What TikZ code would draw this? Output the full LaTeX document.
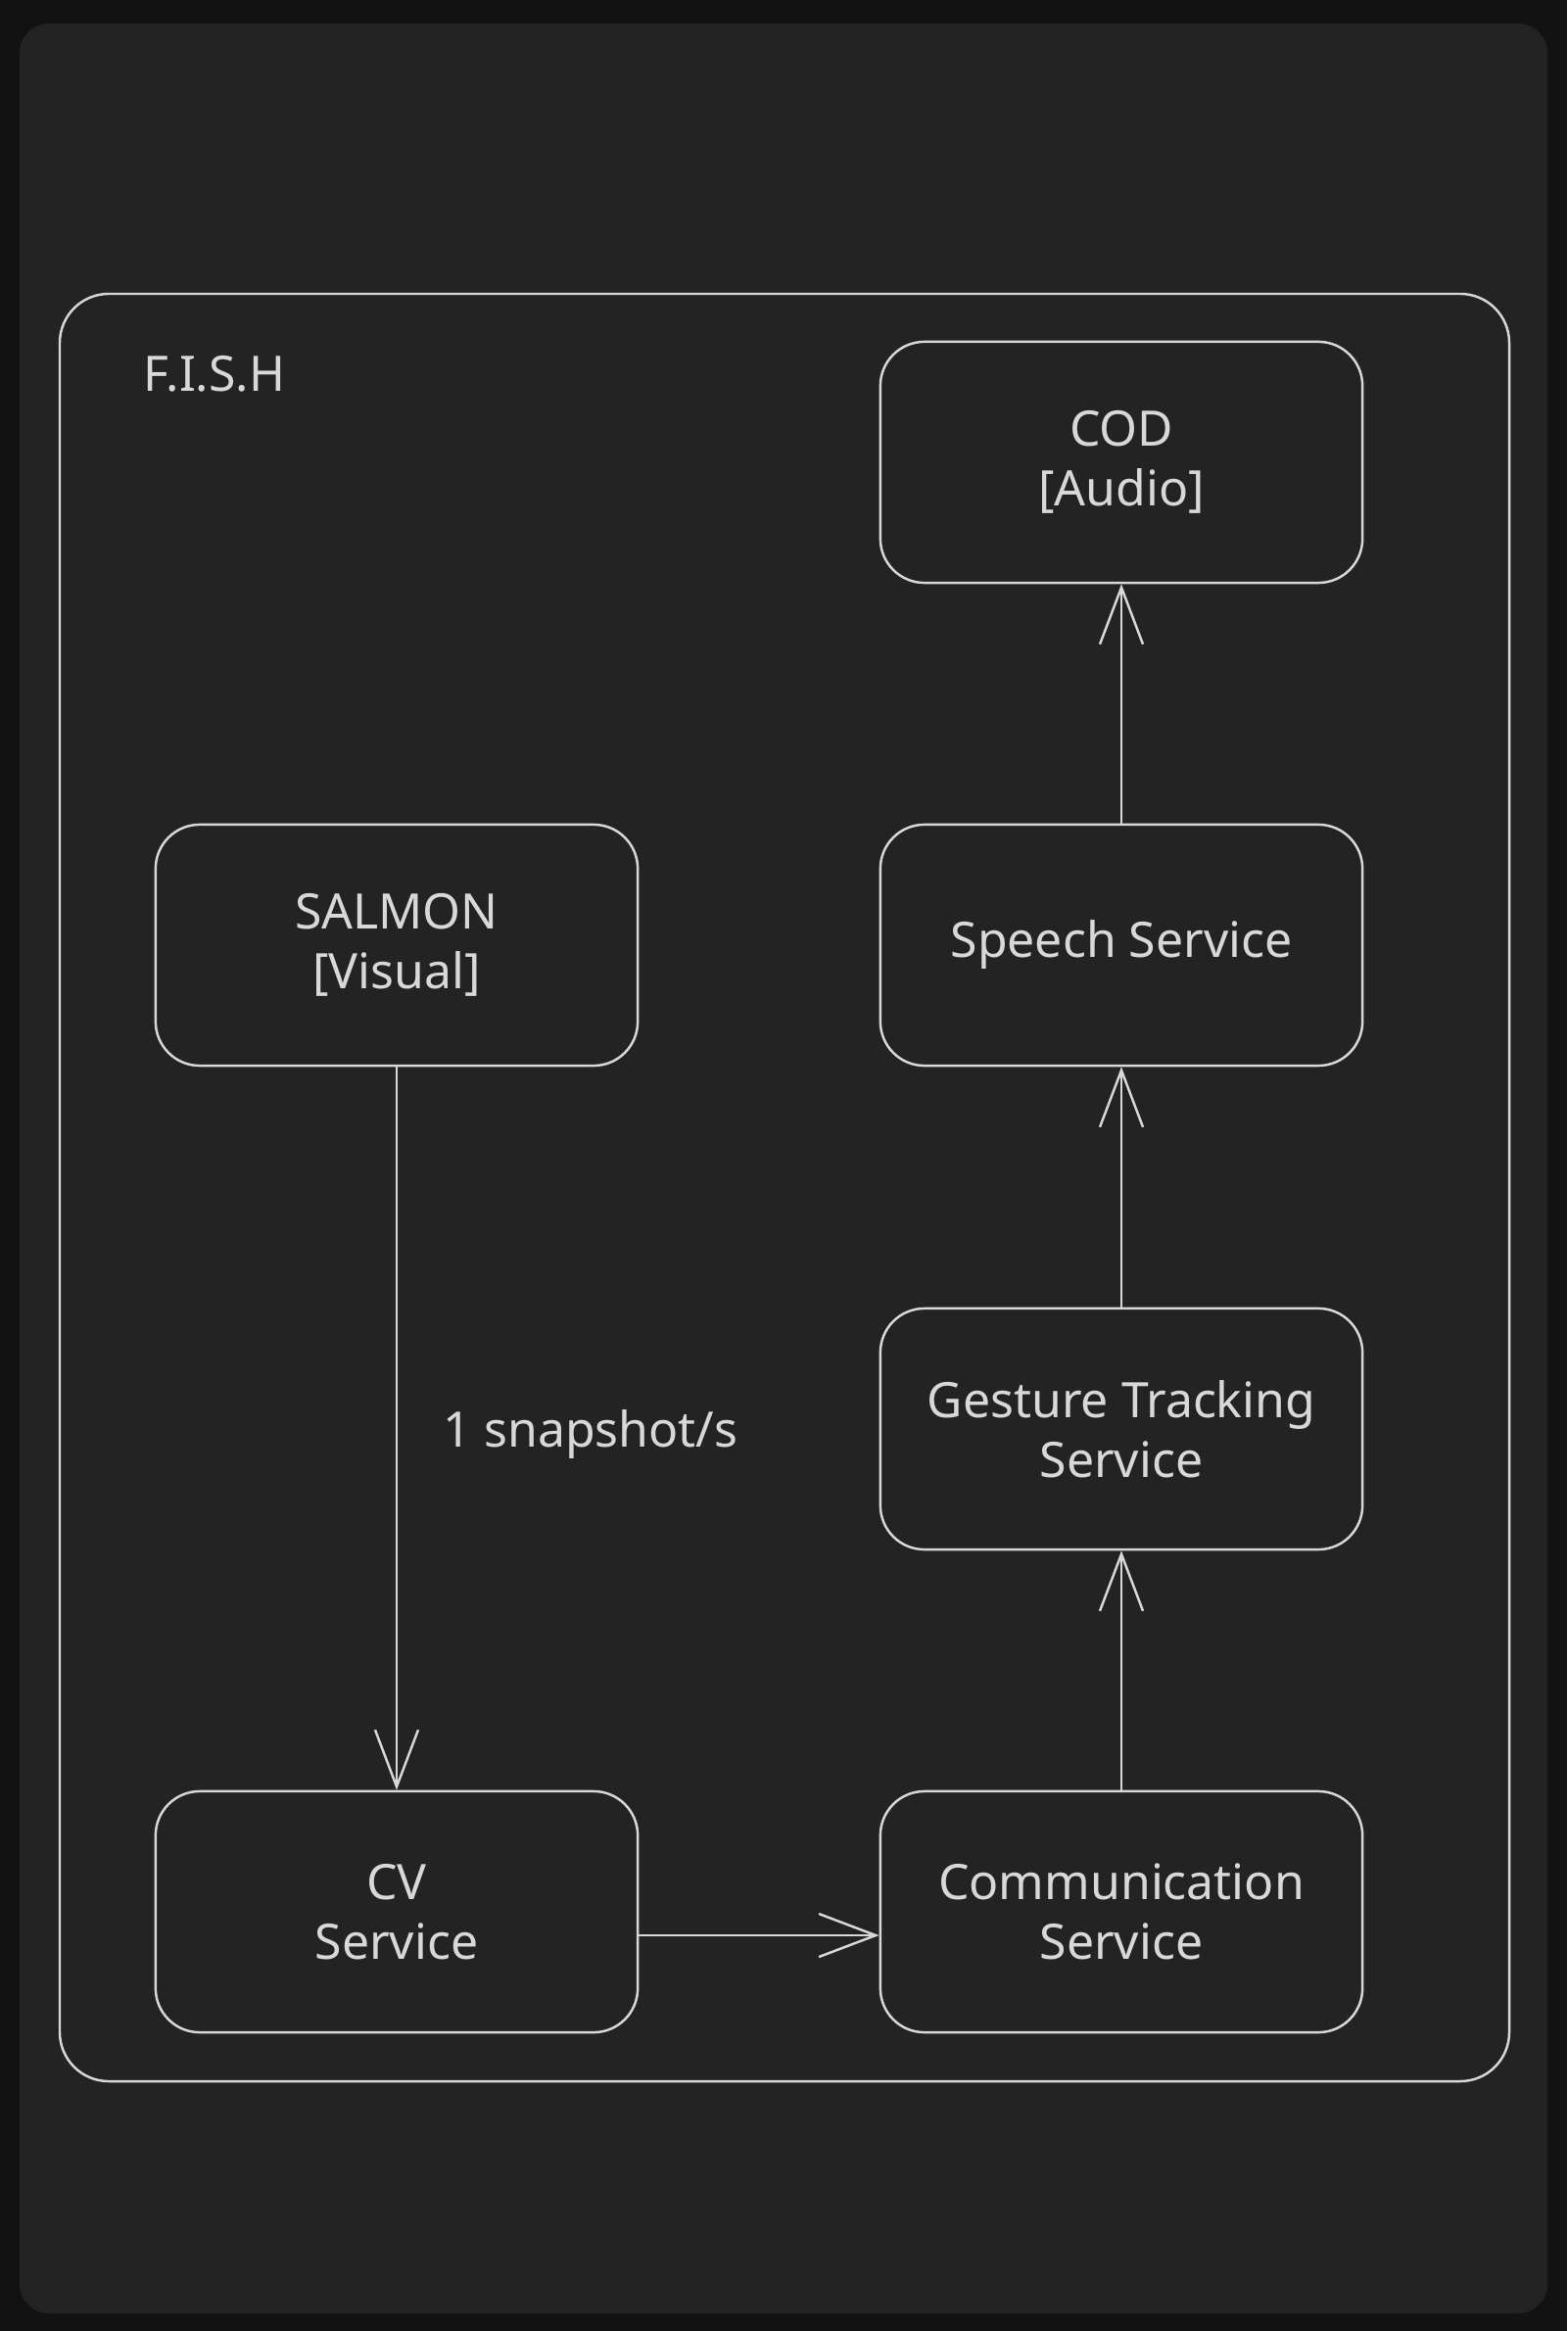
\documentclass[tikz,border=0pt]{standalone}
\usepackage{fontspec}
\setmainfont{Noto Sans}
\usepackage{tikz}
\usetikzlibrary{arrows.meta}
\definecolor{pagebg}{HTML}{121212}
\definecolor{panelbg}{HTML}{232323}
\definecolor{ink}{HTML}{D8D8D8}
\tikzset{>/.tip={Straight Barb[length=0.58cm,width=0.44cm]}}
\tikzset{svc/.style={draw=ink, line width=0.7pt, rounded corners=0.45cm, minimum width=4.92cm, minimum height=2.46cm, align=center, text=ink, inner sep=0pt, font=\fontsize{14.2}{17.4}\selectfont},
  lbl/.style={text=ink, inner sep=0pt, font=\fontsize{14.2}{17.4}\selectfont},
  arr/.style={->, draw=ink, line width=0.7pt}}

\begin{document}
\begin{tikzpicture}[x=0.01cm, y=-0.01cm]
\useasboundingbox[fill=pagebg] (0,0) rectangle (1600,2380);
\fill[panelbg, rounded corners=0.3cm] (20,24) rectangle (1580,2362);
\draw[ink, line width=0.7pt, rounded corners=0.5cm] (61,300) rectangle (1541,2125);
\node[lbl, anchor=west] (fish) at (146,382) {F.I.S.H};

\node[svc] (cod) at (1145,472) {COD\\{[Audio]}};
\node[svc] (speech) at (1145,965) {Speech Service};
\node[svc] (gesture) at (1145,1459) {Gesture Tracking\\Service};
\node[svc] (comm) at (1145,1952) {Communication\\Service};
\node[svc] (salmon) at (405,965) {SALMON\\{[Visual]}};
\node[svc] (cv) at (405,1952) {CV\\Service};
\node[lbl, anchor=west] (rate) at (452,1465) {1 snapshot/s};

\draw[arr] (salmon) -- (cv);
\draw[arr] ([yshift=-0.24cm]cv.east) -- ([yshift=-0.24cm]comm.west);
\draw[arr] (comm) -- (gesture);
\draw[arr] (gesture) -- (speech);
\draw[arr] (speech) -- (cod);
\end{tikzpicture}
\end{document}
